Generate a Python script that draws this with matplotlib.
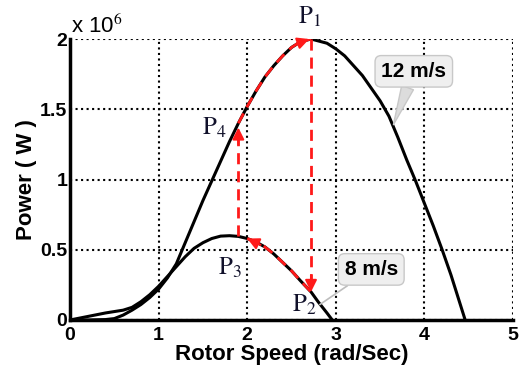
import matplotlib.pyplot as plt

plt.rcParams['font.family'] = ['Liberation Sans', 'DejaVu Sans']
plt.rcParams['mathtext.fontset'] = 'stix'

# power curves (power in units of 10^6 W)
speed_12 = [0, 0.2, 0.4, 0.5, 0.6, 0.7, 0.8, 0.9, 1.0, 1.1, 1.2, 1.3, 1.4, 1.5, 1.6, 1.7,
            1.8, 1.9, 2.0, 2.1, 2.2, 2.3, 2.4, 2.5, 2.6, 2.72, 2.9, 3.0, 3.1, 3.2,
            3.3, 3.4, 3.5, 3.6, 3.7, 3.8, 3.9, 4.0, 4.1, 4.2, 4.3, 4.4, 4.46]
power_12 = [0, 0.0, 0.003, 0.01, 0.035, 0.07, 0.11, 0.16, 0.22, 0.30, 0.40, 0.55, 0.70,
            0.85, 0.99, 1.13, 1.27, 1.40, 1.52, 1.63, 1.73, 1.81, 1.88, 1.94, 1.98, 2.0,
            1.97, 1.93, 1.88, 1.81, 1.74, 1.65, 1.56, 1.45, 1.30, 1.14, 0.99, 0.83,
            0.67, 0.50, 0.32, 0.12, 0]

speed_8 = [0, 0.2, 0.4, 0.6, 0.7, 0.8, 0.9, 1.0, 1.1, 1.2, 1.3, 1.4, 1.5, 1.6, 1.7,
           1.8, 1.9, 2.0, 2.1, 2.2, 2.3, 2.4, 2.5, 2.6, 2.72, 2.8, 2.9, 2.96]
power_8 = [0, 0.025, 0.05, 0.07, 0.09, 0.13, 0.18, 0.24, 0.31, 0.38, 0.45, 0.51, 0.55,
           0.58, 0.597, 0.6, 0.595, 0.58, 0.555, 0.52, 0.47, 0.41, 0.35, 0.28, 0.2,
           0.13, 0.05, 0]

# operating points P1..P4
p_names = ['1', '2', '3', '4']
p_speed = [2.72, 2.72, 1.9, 1.9]
p_power = [2.0, 0.2, 0.595, 1.39]

fig = plt.figure(figsize=(5.19, 3.74), dpi=100)
ax = fig.add_axes([0.1349, 0.1444, 0.8536, 0.7513])

ax.plot(speed_12, power_12, color='black', lw=2.2, zorder=3)
ax.plot(speed_8, power_8, color='black', lw=2.2, zorder=3)

red = dict(color='#ff1a1a', lw=2, ls=(0, (4, 2.5)), zorder=4)
head = dict(arrowstyle='-|>,head_length=0.7,head_width=0.35', color='#ff1a1a',
            lw=1.5, shrinkA=0, shrinkB=0)

# P4 -> P1 along the 12 m/s curve
seg_x = [x for x in speed_12 if p_speed[3] <= x <= p_speed[0]]
seg_y = [y for x, y in zip(speed_12, power_12) if p_speed[3] <= x <= p_speed[0]]
ax.plot(seg_x, seg_y, **red)
ax.annotate('', xy=(p_speed[0] - 0.02, p_power[0]), xytext=(2.55, 1.965),
            arrowprops=head, zorder=5)

# P1 -> P2 vertical drop
ax.plot([p_speed[0], p_speed[1]], [p_power[0], p_power[1] + 0.08], **red)
ax.annotate('', xy=(p_speed[1], p_power[1]), xytext=(p_speed[1], p_power[1] + 0.12),
            arrowprops=head, zorder=5)

# P2 -> P3 back along the 8 m/s curve
seg_x = [x for x in speed_8 if 2.0 <= x <= p_speed[1]]
seg_y = [y for x, y in zip(speed_8, power_8) if 2.0 <= x <= p_speed[1]]
ax.plot(seg_x, seg_y, **red)
ax.annotate('', xy=(2.0, 0.58), xytext=(2.15, 0.535), arrowprops=head, zorder=5)

# P3 -> P4 vertical rise
ax.plot([p_speed[2], p_speed[3]], [p_power[2], p_power[3] - 0.08], **red)
ax.annotate('', xy=(p_speed[3], p_power[3] - 0.02), xytext=(p_speed[3], p_power[3] - 0.14),
            arrowprops=head, zorder=5)

label_pos = [(2.71, 2.16), (2.64, 0.11), (1.81, 0.37), (1.63, 1.37)]
for name, (lx, ly) in zip(p_names, label_pos):
    ax.text(lx, ly, r'$\mathrm{P}_{' + name + '}$', fontsize=18, color='#10102a',
            ha='center', va='center', clip_on=False, zorder=6)

box = dict(boxstyle='round,pad=0.3', fc='#efefef', ec='#c8c8c8', lw=1)
ax.annotate('12 m/s', xy=(3.65, 1.39), xytext=(3.88, 1.77), fontsize=15,
            fontweight='bold', ha='center', va='center', bbox=box, zorder=6,
            arrowprops=dict(arrowstyle='wedge,tail_width=0.6', fc='#dcdcdc',
                            ec='#c8c8c8', shrinkA=0, shrinkB=0))
ax.annotate('8 m/s', xy=(2.82, 0.11), xytext=(3.4, 0.36), fontsize=15,
            fontweight='bold', ha='center', va='center', bbox=box, zorder=6,
            arrowprops=dict(arrowstyle='-', color='#bdbdbd', lw=1.2,
                            shrinkA=0, shrinkB=0))

ax.set_xlim(0, 5)
ax.set_ylim(0, 2)
ax.set_xticks([0, 1, 2, 3, 4, 5])
ax.set_yticks([0, 0.5, 1, 1.5, 2])
ax.set_yticklabels(['0', '0.5', '1', '1.5', '2'])
ax.grid(True, color='black', ls=':', lw=1.5)
ax.set_axisbelow(True)
for side in ['top', 'right']:
    ax.spines[side].set_visible(False)
for side in ['left', 'bottom']:
    ax.spines[side].set_linewidth(2.5)
ax.tick_params(direction='in', length=0, pad=2, labelsize=14)
for lab in ax.get_xticklabels() + ax.get_yticklabels():
    lab.set_fontweight('bold')
ax.tick_params(axis='x', pad=5)

ax.set_xlabel('Rotor Speed (rad/Sec)', fontsize=16, fontweight='bold', labelpad=0)
ax.set_ylabel('Power ( W )', fontsize=16, fontweight='bold', labelpad=2)
ax.text(0.01, 2.01, r'x 10$^{6}$', fontsize=16, ha='left', va='bottom',
        transform=ax.transData, clip_on=False)

fig.savefig('out.png', dpi=100)
